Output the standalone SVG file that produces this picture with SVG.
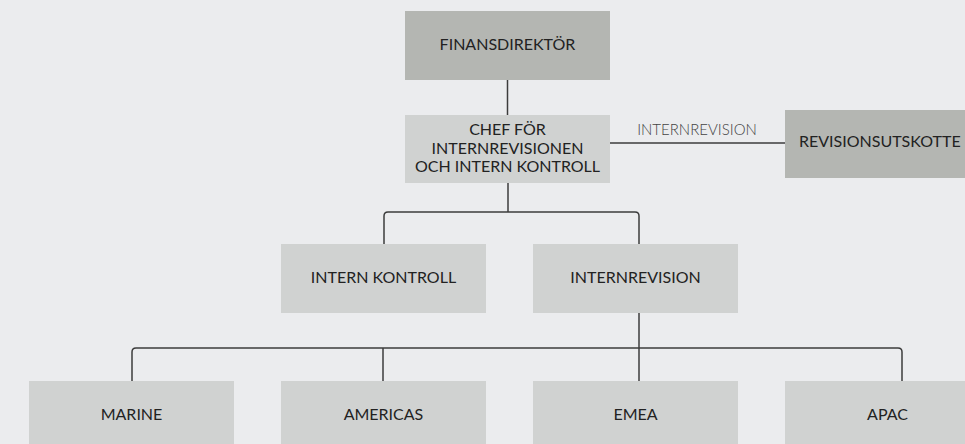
<svg xmlns="http://www.w3.org/2000/svg" width="965" height="444" viewBox="0 0 965 444">
  <style>
    .bg { fill: #ebecee; }
    .dark { fill: #b4b6b2; }
    .light { fill: #d0d2d1; }
    .lbl { font-family: Lato, "Open Sans", sans-serif; font-size: 16px; fill: #222; text-anchor: middle; }
    .edge { fill: none; stroke: #3c3c3c; stroke-width: 1.5; }
    .edge-lbl { font-family: Lato, "Open Sans", sans-serif; font-weight: 300; font-size: 15px; fill: #444; text-anchor: middle; }
  </style>
  <rect class="bg" x="0" y="0" width="965" height="444"/>

  <!-- connectors -->
  <g id="connectors">
    <path class="edge" d="M507.5,80 V115"/>
    <path class="edge" d="M610,143 H785"/>
    <text class="edge-lbl" x="697" y="135">INTERNREVISION</text>
    <path class="edge" d="M508,183 V212"/>
    <path class="edge" d="M384,244 V216 Q384,212 388,212 H635 Q639,212 639,216 V244"/>
    <path class="edge" d="M639,313 V381"/>
    <path class="edge" d="M132,381 V352 Q132,348 136,348 H898 Q902,348 902,352 V381"/>
    <path class="edge" d="M383,348 V381"/>
  </g>

  <g id="finansdirektor">
    <rect class="dark" x="405" y="11" width="205" height="69"/>
    <text class="lbl" x="507.5" y="50">FINANSDIREKTÖR</text>
  </g>

  <g id="chef">
    <rect class="light" x="405" y="115" width="205" height="68"/>
    <text class="lbl" x="507.5" y="135">CHEF FÖR</text>
    <text class="lbl" x="507.5" y="154">INTERNREVISIONEN</text>
    <text class="lbl" x="507.5" y="172">OCH INTERN KONTROLL</text>
  </g>

  <g id="revisionsutskottet">
    <rect class="dark" x="785" y="110" width="205" height="68"/>
    <text class="lbl" x="799" y="147" style="text-anchor:start">REVISIONSUTSKOTTE</text>
  </g>

  <g id="intern-kontroll">
    <rect class="light" x="281" y="244" width="205" height="69"/>
    <text class="lbl" x="383.5" y="283">INTERN KONTROLL</text>
  </g>

  <g id="internrevision">
    <rect class="light" x="533" y="244" width="205" height="69"/>
    <text class="lbl" x="635.5" y="283">INTERNREVISION</text>
  </g>

  <g id="marine">
    <rect class="light" x="29" y="381" width="205" height="68"/>
    <text class="lbl" x="131.5" y="420">MARINE</text>
  </g>

  <g id="americas">
    <rect class="light" x="281" y="381" width="205" height="68"/>
    <text class="lbl" x="383.5" y="420">AMERICAS</text>
  </g>

  <g id="emea">
    <rect class="light" x="533" y="381" width="205" height="68"/>
    <text class="lbl" x="635.5" y="420">EMEA</text>
  </g>

  <g id="apac">
    <rect class="light" x="785" y="381" width="205" height="68"/>
    <text class="lbl" x="887.5" y="420">APAC</text>
  </g>
</svg>
